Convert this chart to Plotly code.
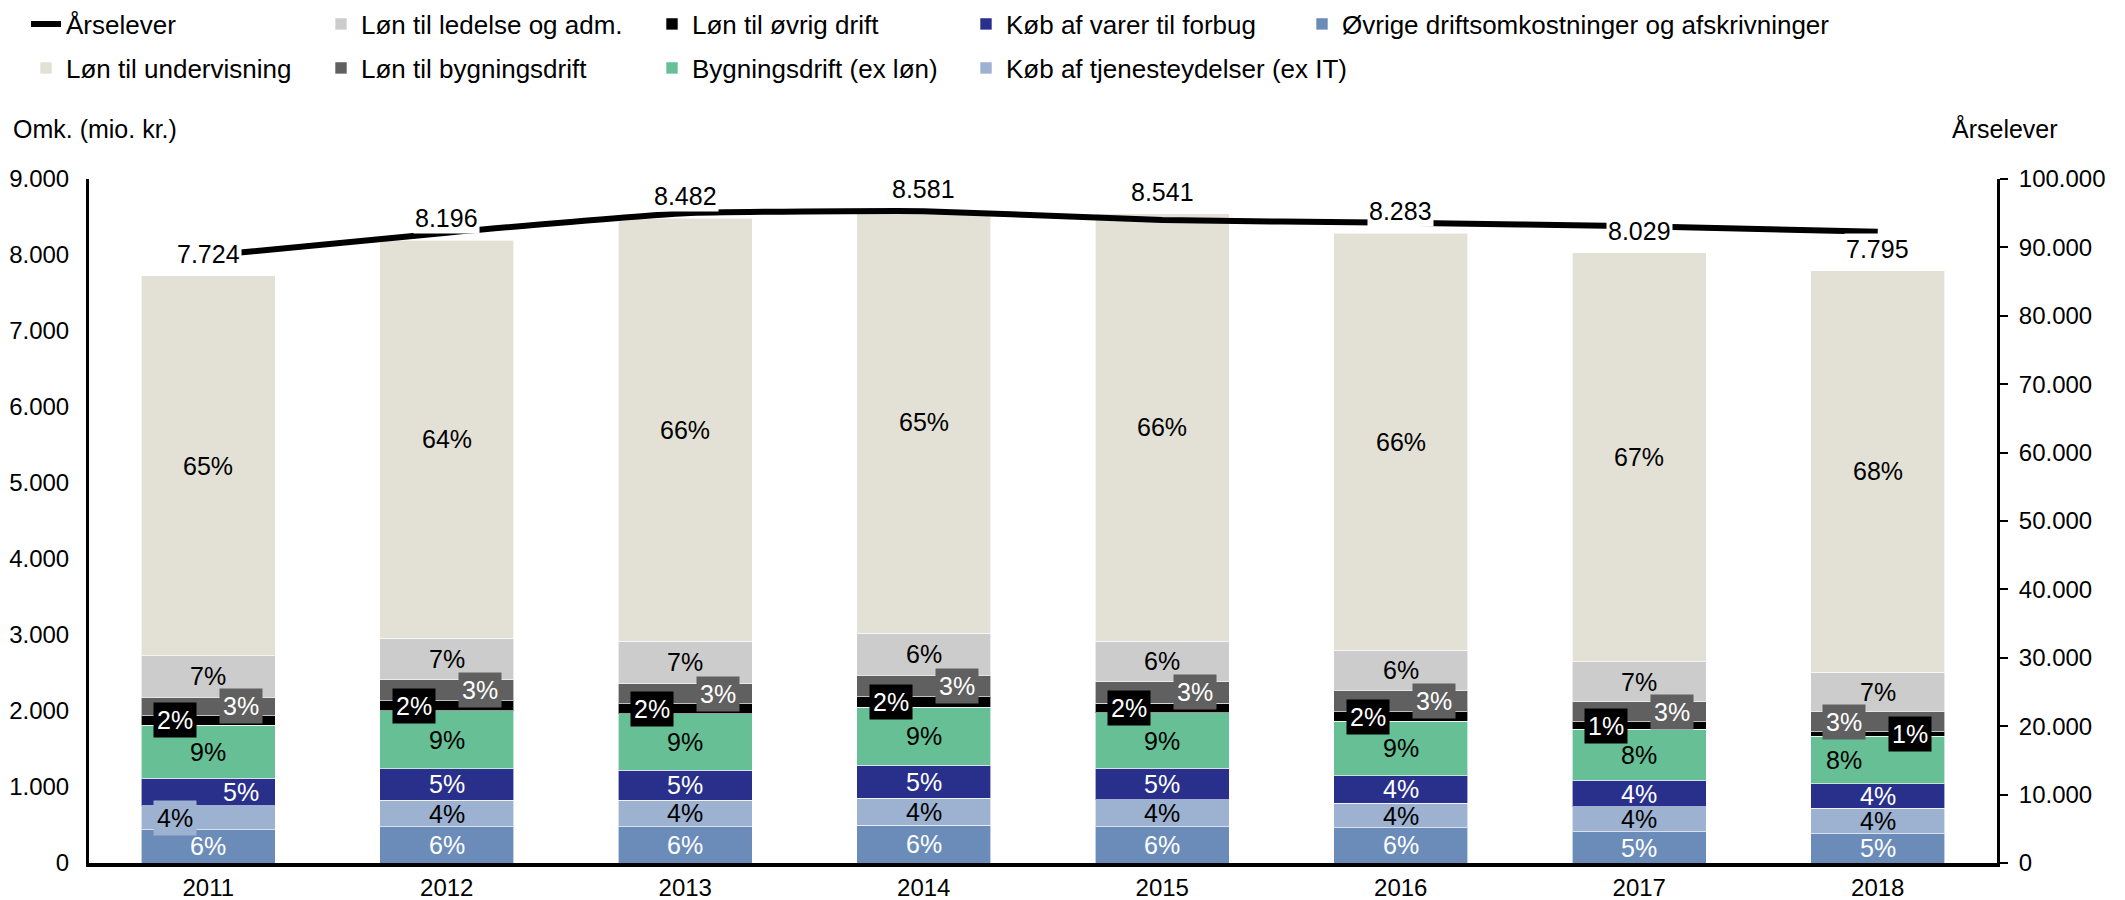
import plotly.graph_objects as go

years = ["2011", "2012", "2013", "2014", "2015", "2016", "2017", "2018"]

# Segments (mio. kr.), bottom to top
ovrige_drift = [435, 474, 480, 500, 475, 461, 408, 382]        # Øvrige driftsomkostninger og afskrivninger
tjenester = [318, 352, 345, 355, 360, 326, 330, 339]           # Køb af tjenesteydelser (ex IT)
varer = [360, 417, 395, 430, 410, 364, 352, 325]               # Køb af varer til forbug
bygdrift_ex = [700, 760, 745, 765, 730, 712, 668, 623]         # Bygningsdrift (ex løn)
lon_ovrig = [125, 135, 130, 140, 130, 128, 100, 60]            # Løn til øvrig drift
lon_byg = [245, 272, 265, 280, 280, 280, 263, 265]             # Løn til bygningsdrift
lon_ledelse = [545, 550, 560, 553, 535, 527, 530, 515]         # Løn til ledelse og adm.
lon_underv = [4996, 5236, 5562, 5558, 5621, 5485, 5378, 5286]  # Løn til undervisning

arselever = [88800, 92150, 95000, 95300, 94000, 93600, 93100, 92300]

FONT = "Liberation Sans, Arial, sans-serif"
FS = 25
LFS = 26
TFS = 24

series = [
    ("Øvrige driftsomkostninger og afskrivninger", ovrige_drift, "#6B8CB9", "white"),
    ("Køb af tjenesteydelser (ex IT)", tjenester, "#9DB1D0", "black"),
    ("Køb af varer til forbug", varer, "#29308C", "white"),
    ("Bygningsdrift (ex løn)", bygdrift_ex, "#66BF95", "black"),
    ("Løn til øvrig drift", lon_ovrig, "#000000", "white"),
    ("Løn til bygningsdrift", lon_byg, "#606060", "white"),
    ("Løn til ledelse og adm.", lon_ledelse, "#CCCCCC", "black"),
    ("Løn til undervisning", lon_underv, "#E3E0D6", "black"),
]

# legend slots (page px): name -> (text start x, row center y)
legend_pos = {
    "Årselever": (68, 24),
    "Løn til undervisning": (68, 68),
    "Løn til ledelse og adm.": (363, 24),
    "Løn til bygningsdrift": (363, 68),
    "Løn til øvrig drift": (694, 24),
    "Bygningsdrift (ex løn)": (694, 68),
    "Køb af varer til forbug": (1008, 24),
    "Køb af tjenesteydelser (ex IT)": (1008, 68),
    "Øvrige driftsomkostninger og afskrivninger": (1344, 24),
}

# label horizontal offsets (px) for crowded segments
default_shift = {"Løn til øvrig drift": -33, "Løn til bygningsdrift": 33}
special_shift = {
    ("Løn til øvrig drift", "2018"): 32,
    ("Løn til bygningsdrift", "2018"): -34,
    ("Køb af tjenesteydelser (ex IT)", "2011"): -33,
    ("Køb af varer til forbug", "2011"): 33,
    ("Bygningsdrift (ex løn)", "2018"): -34,
}
no_box = {"Køb af varer til forbug", "Bygningsdrift (ex løn)"}

# page has an 8px body margin; figure sized to fit inside 2125x900 viewport
OFF = 8
W, H = 2125 - OFF, 900 - OFF
PLOT_L, PLOT_R, PLOT_T, PLOT_B = 89, 1997, 179, 863   # page px
L, T = PLOT_L - OFF, PLOT_T - OFF
R, B = W - (PLOT_R - OFF), H - (PLOT_B - OFF)
PW, PH = PLOT_R - PLOT_L, PLOT_B - PLOT_T


def px_to_paper(x, y):
    return (x - PLOT_L) / PW, (PLOT_B - y) / PH


fig = go.Figure()
legend_names = {}
for i, name in enumerate(legend_pos):
    legend_names[name] = "legend" if i == 0 else f"legend{i+1}"

totals = [sum(s[1][j] for s in series) for j in range(len(years))]

annotations = []
base = [0] * len(years)
for name, vals, color, tcol in series:
    fig.add_trace(go.Bar(
        x=years, y=vals, name=name,
        marker=dict(color=color, line=dict(color="rgba(255,255,255,0.6)", width=1)),
        legend=legend_names[name], hoverinfo="skip",
    ))
    for j, yr in enumerate(years):
        v = vals[j]
        pct = int(v * 100 / totals[j] + 0.5)
        shift = special_shift.get((name, yr), default_shift.get(name, 0))
        boxed = shift != 0 and name not in no_box
        annotations.append(dict(
            x=j, y=base[j] + v / 2, xref="x", yref="y", text=f"{pct}%",
            showarrow=False, xshift=shift,
            font=dict(family=FONT, size=FS, color=tcol),
            bgcolor=color if boxed else None, borderpad=3,
        ))
        base[j] += v

fig.add_trace(go.Scatter(
    x=years, y=arselever, name="Årselever", yaxis="y2", mode="lines",
    line=dict(color="black", width=6, shape="spline", smoothing=0.4),
    legend=legend_names["Årselever"], hoverinfo="skip",
))

for j, yr in enumerate(years):
    annotations.append(dict(
        x=j, y=totals[j], xref="x", yref="y", text=f"{totals[j]:,}".replace(",", "."),
        showarrow=False, yanchor="bottom", yshift=6, bgcolor="white", borderpad=1,
        font=dict(family=FONT, size=FS, color="black"),
    ))

ax, ay = px_to_paper(11, 129)
annotations.append(dict(x=ax, y=ay, xref="paper", yref="paper", text="Omk. (mio. kr.)",
                        showarrow=False, xanchor="left", yanchor="middle",
                        font=dict(family=FONT, size=FS, color="black")))
ax, ay = px_to_paper(2005, 129)
annotations.append(dict(x=ax, y=ay, xref="paper", yref="paper", text="Årselever",
                        showarrow=False, xanchor="center", yanchor="middle",
                        font=dict(family=FONT, size=FS, color="black")))

layout_legends = {}
for name, (tx, ty) in legend_pos.items():
    lx, ly = px_to_paper(tx - 42, ty)
    layout_legends[legend_names[name]] = dict(
        x=lx, y=ly, xanchor="left", yanchor="middle", orientation="v",
        bgcolor="rgba(0,0,0,0)", font=dict(family=FONT, size=LFS, color="black"),
    )

x0, y0 = px_to_paper(0, 2)
x1, _ = px_to_paper(2125, 2)

fig.update_layout(
    width=W, height=H,
    margin=dict(l=L, r=R, t=T, b=B, autoexpand=False),
    paper_bgcolor="white", plot_bgcolor="white",
    barmode="stack", bargap=0.438,
    separators=",.",
    showlegend=True,
    font=dict(family=FONT, size=FS, color="black"),
    annotations=annotations,
    shapes=[dict(type="line", xref="paper", yref="paper", x0=x0, x1=x1, y0=y0, y1=y0,
                 line=dict(color="black", width=3))],
    xaxis=dict(type="category", range=[-0.5, len(years) - 0.5], showline=True,
               linecolor="black", linewidth=4, ticks="", showgrid=False,
               tickfont=dict(family=FONT, size=TFS, color="black")),
    yaxis=dict(range=[0, 9000], dtick=1000, tickformat=",d", showline=True, linecolor="black",
               linewidth=3, ticks="", showgrid=False, zeroline=False, ticklabelstandoff=12,
               tickfont=dict(family=FONT, size=TFS, color="black")),
    yaxis2=dict(range=[0, 100000], dtick=10000, tickformat=",d", overlaying="y", side="right",
                showline=True, linecolor="black", linewidth=3, ticks="outside", ticklen=8,
                tickwidth=2, tickcolor="black", showgrid=False, zeroline=False, ticklabelstandoff=6,
                tickfont=dict(family=FONT, size=TFS, color="black")),
    **layout_legends,
)

fig.write_html("out.html")
